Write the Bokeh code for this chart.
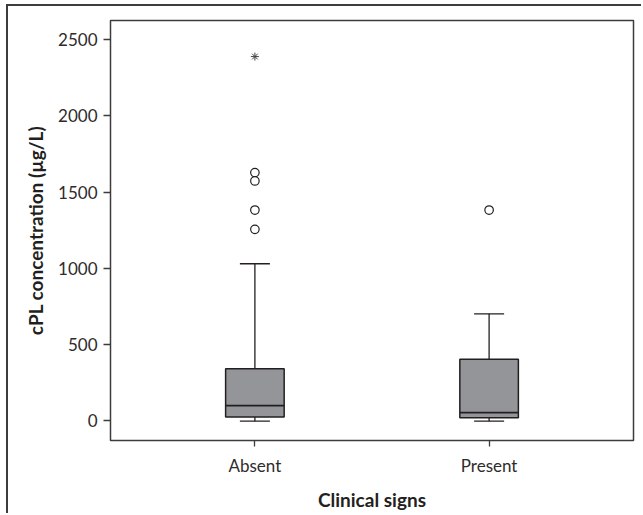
from bokeh.plotting import figure
from bokeh.models import (FactorRange, Range1d, ColumnDataSource, Whisker, TeeHead,
                          FixedTicker)
from bokeh.embed import file_html
from bokeh.resources import INLINE

# ---- data ----
categories = ["Absent", "Present"]
lower_whisker = [-5, -5]
q1 = [22, 18]
median = [97, 51]
q3 = [340, 401]
upper_whisker = [1029, 700]

outlier_cat = ["Absent", "Absent", "Absent", "Absent", "Present"]
outlier_val = [1628, 1573, 1382, 1255, 1382]
extreme_cat = ["Absent"]
extreme_val = [2390]

y_ticks = [0, 500, 1000, 1500, 2000, 2500]

INK = "#231f20"
FILL = "#939598"
FONT = "Lato"

src = ColumnDataSource(dict(cat=categories, lo=lower_whisker, q1=q1, med=median,
                            q3=q3, hi=upper_whisker))

p = figure(width=635, height=509, output_backend="svg", toolbar_location=None,
           x_range=FactorRange(factors=categories, range_padding=0.1165,
                               range_padding_units="percent"),
           y_range=Range1d(-132, 2627),
           min_border_left=102, min_border_top=14, min_border_right=10,
           min_border_bottom=75)
p.margin = (4, 0, 0, 6)
p.styles = {"border-left": "2px solid #3c3c3c", "border-top": "2px solid #3c3c3c"}

p.background_fill_color = "white"
p.border_fill_color = "white"
p.outline_line_color = "#3c3c3c"
p.outline_line_width = 1.5
p.xgrid.visible = False
p.ygrid.visible = False

# whiskers
up = Whisker(source=src, base="cat", lower="q3", upper="hi", line_color=INK,
             line_width=1.3,
             upper_head=TeeHead(size=30, line_color=INK, line_width=1.3),
             lower_head=None)
dn = Whisker(source=src, base="cat", lower="lo", upper="q1", line_color=INK,
             line_width=1.3,
             lower_head=TeeHead(size=30, line_color=INK, line_width=1.3),
             upper_head=None)
p.add_layout(up)
p.add_layout(dn)

# boxes
p.vbar(x="cat", width=0.25, bottom="q1", top="q3", source=src,
       fill_color=FILL, line_color=INK, line_width=1.5)
# medians
p.vbar(x="cat", width=0.25, bottom="med", top="med", source=src,
       fill_alpha=0, line_color=INK, line_width=1.6)

# outliers
p.scatter(x=outlier_cat, y=outlier_val, marker="circle", size=8.5,
          fill_color="white", line_color=INK, line_width=1.2)
p.scatter(x=extreme_cat, y=extreme_val, marker="asterisk", size=8,
          line_color="#444444", line_width=1.0)

# axes
for ax in (p.xaxis[0], p.yaxis[0]):
    ax.axis_line_color = None
    ax.major_tick_line_color = "#3c3c3c"
    ax.major_tick_line_width = 1.3
    ax.major_tick_in = 0
    ax.minor_tick_line_color = None
    ax.major_label_text_font = FONT
    ax.major_label_text_font_size = "17px"
    ax.major_label_text_color = "#2e2b2c"
    ax.axis_label_text_font = FONT
    ax.axis_label_text_font_size = "19px"
    ax.axis_label_text_font_style = "bold"
    ax.axis_label_text_color = INK

p.yaxis.ticker = FixedTicker(ticks=y_ticks)
p.yaxis.major_tick_out = 7
p.yaxis.major_label_standoff = 6
p.yaxis.axis_label = "cPL concentration (µg/L)"
p.yaxis.axis_label_standoff = 8

p.xaxis.major_tick_out = 6
p.xaxis.major_label_standoff = 8
p.xaxis.axis_label = "Clinical signs"
p.xaxis.axis_label_standoff = 9

open("out.html", "w").write(file_html(p, INLINE))
